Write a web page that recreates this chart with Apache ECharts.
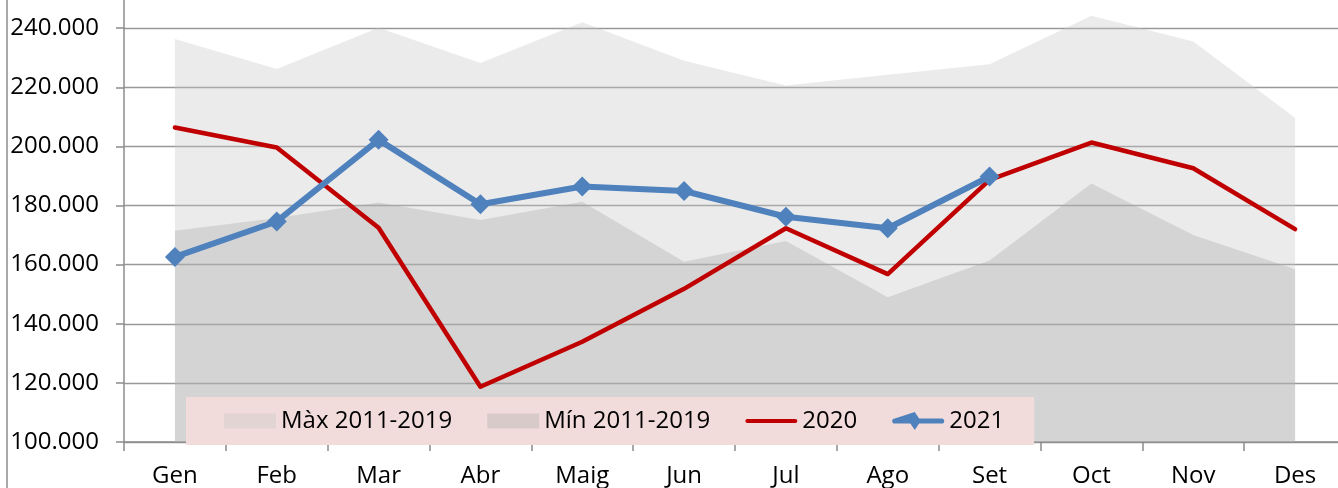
<!DOCTYPE html>
<html>
<head>
<meta charset="utf-8">
<script src="https://cdn.jsdelivr.net/npm/echarts@6/dist/echarts.min.js"></script>
<style>
html,body{margin:0;padding:0;background:#fff;}
#chart{width:1338px;height:488px;}
</style>
</head>
<body>
<div id="chart"></div>
<script>
const categories = ['Gen','Feb','Mar','Abr','Maig','Jun','Jul','Ago','Set','Oct','Nov','Des'];
const maxValues = [236300, 226200, 240100, 228200, 242000, 229000, 220600, 224200, 227800, 244200, 235500, 209700];
const minValues = [171500, 175800, 181000, 175100, 181300, 161000, 168000, 149000, 161400, 187400, 170000, 158400];
const values2020 = [206400, 199600, 172500, 118700, 133900, 151800, 172300, 156800, 188700, 201300, 192600, 172000];
const values2021 = [162600, 174600, 202200, 180400, 186400, 184900, 176200, 172300, 189800];
const seriesNames = ['Màx 2011-2019', 'Mín 2011-2019', '2020', '2021'];

const fontFamily = '"Open Sans", "Liberation Sans", sans-serif';
const chart = echarts.init(document.getElementById('chart'));
const fmt = v => String(v).replace(/\B(?=(\d{3})+(?!\d))/g, '.');

chart.setOption({
  animation: false,
  textStyle: { fontFamily: fontFamily },
  grid: { left: 124, right: -8, top: -31, bottom: 46, containLabel: false, outerBoundsMode: 'none' },
  legend: {
    left: 186, top: 397,
    padding: [12, 30, 12, 38],
    backgroundColor: '#f2dcdb',
    itemWidth: 52, itemHeight: 21, itemGap: 35,
    symbolKeepAspect: true,
    textStyle: { fontFamily: fontFamily, fontSize: 24, color: '#000' },
    data: [
      { name: seriesNames[0], icon: 'path://M0,0 L52,0 L52,15 L0,15 Z' },
      { name: seriesNames[1], icon: 'path://M0,0 L52,0 L52,15 L0,15 Z' },
      { name: seriesNames[2], icon: 'path://M2,0 L53,0 A2.25,2.25 0 0 1 53,4.5 L2,4.5 A2.25,2.25 0 0 1 2,0 Z' },
      { name: seriesNames[3], icon: 'path://M3,7.5 L26,7.5 L19,10.5 L26,0 L33,10.5 L26,21 L19,10.5 L26,0 Z M3,7.5 L57,7.5 A3,3 0 0 1 57,13.5 L3,13.5 A3,3 0 0 1 3,7.5 Z' }
    ]
  },
  xAxis: {
    type: 'category',
    data: categories,
    boundaryGap: true,
    axisLine: { lineStyle: { color: '#8c8c8c', width: 1.5 } },
    axisTick: { show: true, length: 9, inside: false, lineStyle: { color: '#8c8c8c', width: 1.5 } },
    axisLabel: { fontSize: 24, color: '#000', margin: 22, fontFamily: fontFamily },
    splitLine: { show: false }
  },
  yAxis: {
    type: 'value',
    min: 100000, max: 260000, interval: 20000,
    axisLine: { show: true, lineStyle: { color: '#8c8c8c', width: 1.5 } },
    axisTick: { show: true, length: 8, lineStyle: { color: '#8c8c8c', width: 1.5 } },
    axisLabel: { fontSize: 24, color: '#000', margin: 25, formatter: fmt, fontFamily: fontFamily },
    splitLine: { show: true, lineStyle: { color: '#999999', width: 1.3 } }
  },
  graphic: [
    { type: 'line', shape: { x1: 7, y1: 0, x2: 7, y2: 488 }, style: { stroke: '#8c8c8c', lineWidth: 1.5 } }
  ],
  series: [
    {
      name: seriesNames[0], type: 'line', data: maxValues,
      symbol: 'none', lineStyle: { width: 0 },
      itemStyle: { color: 'rgba(197,197,197,0.34)' },
      areaStyle: { color: 'rgba(197,197,197,0.34)', origin: 'start', opacity: 1 },
      z: 1
    },
    {
      name: seriesNames[1], type: 'line', data: minValues,
      symbol: 'none', lineStyle: { width: 0 },
      itemStyle: { color: 'rgba(167,167,167,0.34)' },
      areaStyle: { color: 'rgba(167,167,167,0.34)', origin: 'start', opacity: 1 },
      z: 2
    },
    {
      name: seriesNames[2], type: 'line', data: values2020,
      symbol: 'none', lineStyle: { width: 4.5, color: '#c00000', cap: 'round', join: 'round' },
      itemStyle: { color: '#c00000' },
      z: 3
    },
    {
      name: seriesNames[3], type: 'line', data: values2021,
      symbol: 'diamond', symbolSize: 20, showSymbol: true,
      lineStyle: { width: 6, color: '#4f81bd', cap: 'round', join: 'round' },
      itemStyle: { color: '#4f81bd' },
      z: 4
    }
  ]
});
</script>
</body>
</html>
